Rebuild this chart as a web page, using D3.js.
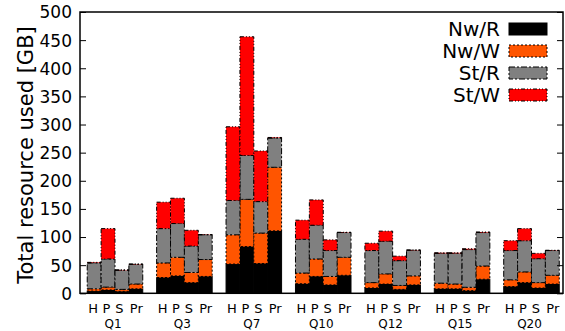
<!DOCTYPE html>
<html><head><meta charset="utf-8">
<script src="https://cdn.jsdelivr.net/npm/d3@7"></script>
<style>
html,body{margin:0;padding:0;background:#fff;}
svg text{font-family:"DejaVu Sans",sans-serif;fill:#000;}
</style></head>
<body><svg id="c" width="565" height="331"></svg>
<script>
const queries = ["Q1","Q3","Q7","Q10","Q12","Q15","Q20"];
const systems = ["H","P","S","Pr"];
const seriesNames = ["Nw/R","Nw/W","St/R","St/W"];
const seriesColors = ["#000000","#ff5500","#808080","#ff0000"];
const seriesDash = ["none","2,2","6,2,2,2","4,2,1,2,1,2"];
const yTicks = [0,50,100,150,200,250,300,350,400,450,500];
// values per query, per system (H, P, S, Pr) in GB
const nwR = [[4,6,3.5,8],[28,31,19,30],[52,83,53,111],[17,30,15,32],[9.5,16.5,7,15],[8,8,4.7,25],[12,19,9.5,16.5]];
const nwW = [[4,5,3.5,8.5],[26,33,18,30],[52,84,54,113],[19,31,15,32],[9.5,18,7,16],[10,8.5,6,23.5],[12,19,9.5,15.5]];
const stR = [[46,50,34,35],[61,60,47,44],[61,78,56,52],[60,60,46,44],[57,58,44,45.5],[53,54.5,67,59.5],[52,55.5,42.5,44]];
const stW = [[1,54,0.5,0.5],[47,45,28,0.5],[131,211,90,1],[34,45,19,0.5],[13,18,8,0.5],[1,1,1.5,1],[17.5,21.5,9.5,0.5]];

const svg = d3.select("#c");
const L = 80, R = 563, T = 12, B = 293.3;
const x = d3.scaleLinear().domain([-1.02, 33.77]).range([L, R]);
const y = d3.scaleLinear().domain([0, 500]).range([B, T]);

const rows = [];
queries.forEach((q, qi) => systems.forEach((s, si) => {
  rows.push({q, s, si, pos: qi*5 + si,
    "Nw/R": nwR[qi][si], "Nw/W": nwW[qi][si], "St/R": stR[qi][si], "St/W": stW[qi][si]});
}));
const stacked = d3.stack().keys(seriesNames)(rows);
const bw = x(1) - x(0);

stacked.forEach((layer, li) => {
  svg.append("g").selectAll("rect").data(layer).join("rect")
    .attr("x", d => x(d.data.pos) - bw/2)
    .attr("width", bw)
    .attr("y", d => y(d[1]))
    .attr("height", d => y(d[0]) - y(d[1]))
    .attr("fill", seriesColors[li])
    .attr("stroke", "#000")
    .attr("stroke-width", 1)
    .attr("stroke-dasharray", seriesDash[li]);
});

// axes
const yl = svg.append("g").attr("transform", `translate(${L},0)`)
  .call(d3.axisLeft(y).tickValues(yTicks).tickSizeInner(-6).tickSizeOuter(0).tickPadding(8));
yl.select(".domain").remove();
yl.selectAll("text").style("font-size","17px").attr("dy","0.35em");
yl.selectAll("line").attr("stroke-width",1);
const yr = svg.append("g").attr("transform", `translate(${R},0)`)
  .call(d3.axisRight(y).tickValues(yTicks).tickSizeInner(-6).tickSizeOuter(0).tickFormat(""));
yr.select(".domain").remove();

svg.append("rect").attr("x", L).attr("y", T).attr("width", R-L).attr("height", B-T)
  .attr("fill","none").attr("stroke","#000").attr("stroke-width",1.5);

// x labels
const labelShift = [-1, -1.5, -2.5, 0.5];
svg.append("g").selectAll("text").data(rows).join("text")
  .attr("x", d => x(d.pos) + labelShift[d.si])
  .attr("y", 312.5)
  .attr("text-anchor","middle")
  .style("font-size","13px")
  .text(d => d.s);
svg.append("g").selectAll("text").data(queries).join("text")
  .attr("x", (q, i) => x(i*5 + 1.5) - 2)
  .attr("y", 327.5)
  .attr("text-anchor","middle")
  .style("font-size","12px")
  .text(q => q);

// y title
svg.append("text")
  .attr("transform", `translate(33,155) rotate(-90)`)
  .attr("text-anchor","middle")
  .style("font-size","21px")
  .text("Total resource used [GB]");

// legend
const lg = svg.append("g");
seriesNames.forEach((n, i) => {
  const cy = 29 + i*22;
  lg.append("text").attr("x", 500).attr("y", cy).attr("dy","0.35em")
    .attr("text-anchor","end").style("font-size","20px").text(n);
  lg.append("rect").attr("x", 509).attr("y", cy-6).attr("width", 38).attr("height", 12)
    .attr("fill", seriesColors[i]).attr("stroke","#000").attr("stroke-width",1)
    .attr("stroke-dasharray", seriesDash[i]);
});
</script></body></html>
